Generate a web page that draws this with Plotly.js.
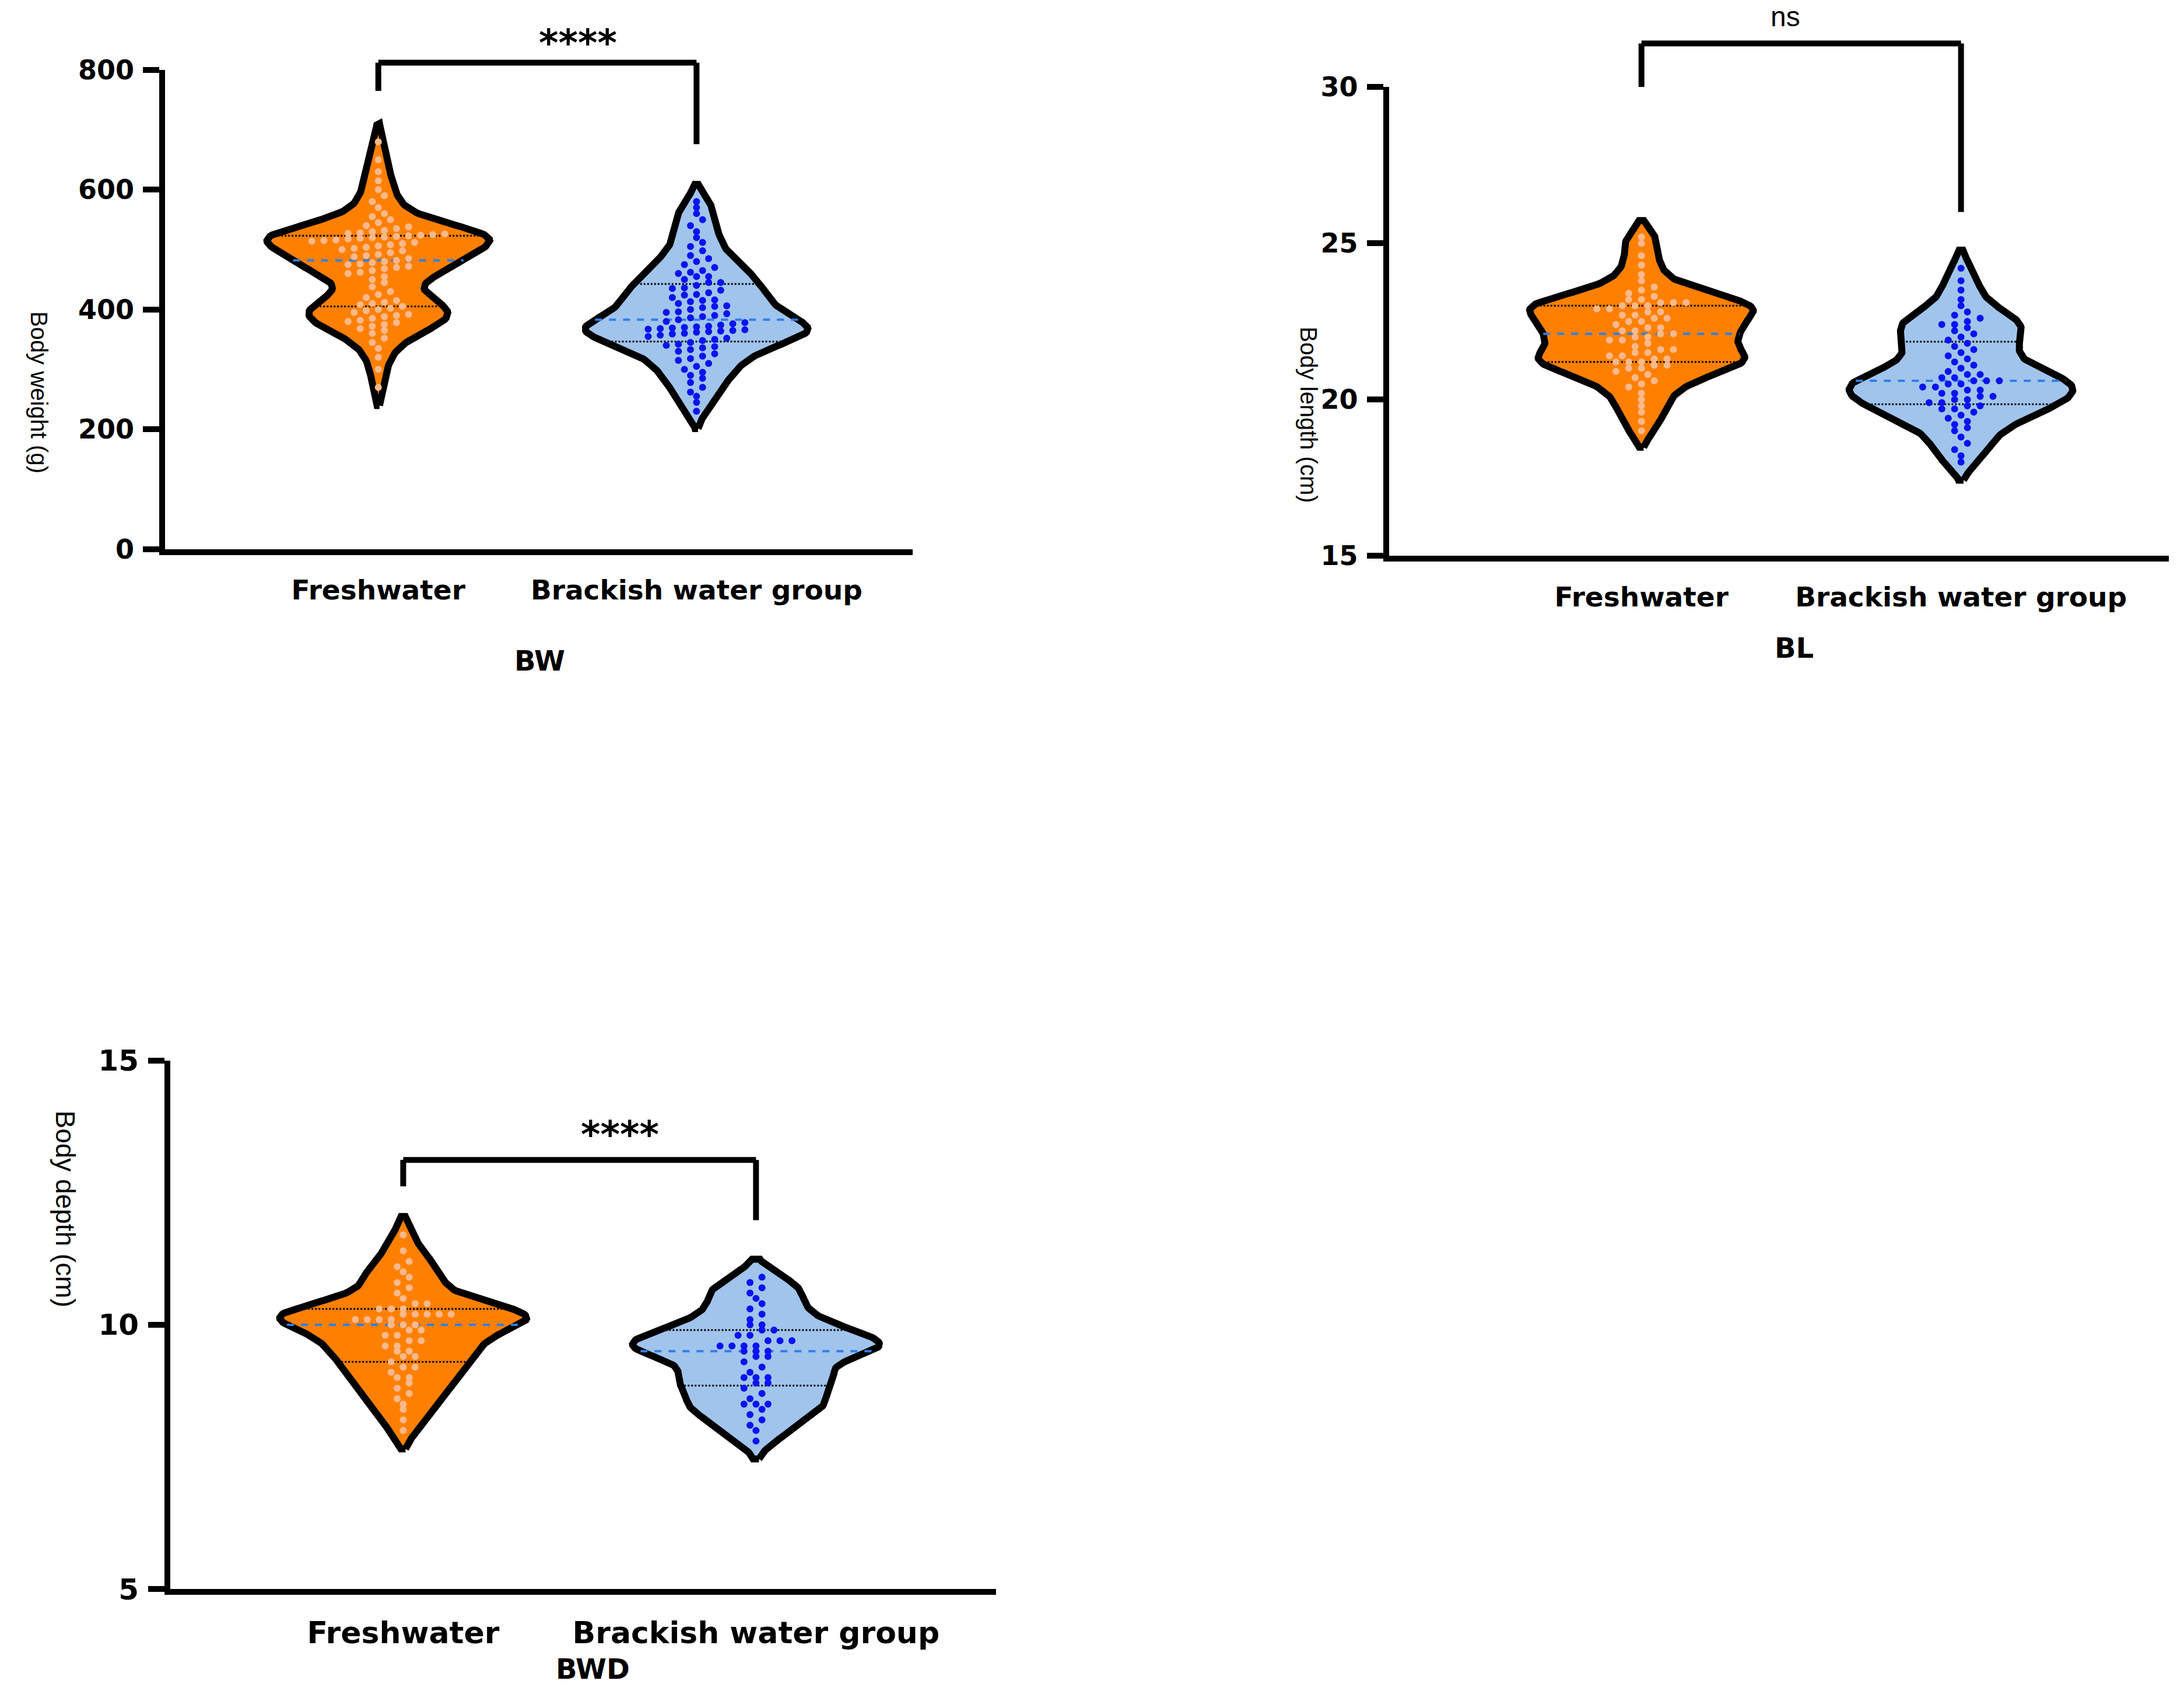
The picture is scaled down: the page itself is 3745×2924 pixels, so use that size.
<!DOCTYPE html>
<html>
<head>
<meta charset="utf-8">
<script src="https://cdn.plot.ly/plotly-3.0.1.min.js"></script>
<style>body{margin:0;background:#fff}#chart{width:3745px;height:2924px}</style>
</head>
<body>
<div id="chart"></div>
<script>
var groups = ["Freshwater", "Brackish water group"];

var fwBW = [270,300,320,335,345,352,360,365,368,372,375,378,380,382,385,388,390,392,395,398,400,402,405,408,410,412,415,420,425,430,438,445,450,455,460,462,465,468,470,472,475,476,478,480,482,485,488,490,492,495,498,500,502,504,506,508,510,512,514,515,516,518,519,520,521,522,523,524,525,526,527,528,530,532,535,538,540,545,550,555,560,570,580,590,600,615,630,650,680];
var bwBW = [230,245,255,262,270,278,285,290,295,300,305,310,315,318,322,326,330,333,336,338,340,342,345,348,350,352,355,357,359,360,362,363,364,365,366,367,368,369,370,371,372,374,376,378,380,383,386,388,390,393,395,396,400,403,405,406,410,413,415,416,420,424,425,428,432,435,436,440,445,445,450,455,455,460,462,465,470,475,480,485,490,498,505,512,520,530,540,550,560,570,580];
var fwBL = [19.0,19.3,19.6,19.8,20.0,20.2,20.4,20.5,20.6,20.7,20.8,20.9,21.0,21.0,21.1,21.1,21.2,21.2,21.2,21.3,21.3,21.4,21.4,21.5,21.5,21.6,21.6,21.7,21.8,21.9,21.9,22.0,22.0,22.1,22.1,22.2,22.2,22.3,22.3,22.4,22.5,22.5,22.6,22.6,22.7,22.7,22.8,22.8,22.9,22.9,23.0,23.0,23.0,23.1,23.1,23.1,23.2,23.2,23.3,23.4,23.5,23.6,23.8,24.0,24.3,24.6,25.0,25.2];
var bwBL = [18.0,18.2,18.4,18.6,18.8,19.0,19.1,19.2,19.3,19.4,19.5,19.6,19.7,19.7,19.8,19.8,19.9,19.9,20.0,20.0,20.1,20.1,20.2,20.2,20.3,20.3,20.4,20.4,20.5,20.5,20.6,20.6,20.6,20.7,20.7,20.8,20.8,20.9,21.0,21.1,21.2,21.3,21.4,21.5,21.6,21.7,21.8,21.9,22.0,22.1,22.2,22.3,22.4,22.4,22.5,22.6,22.7,22.8,23.0,23.2,23.5,23.8,24.2];
var fwBWD = [8.0,8.2,8.4,8.5,8.6,8.7,8.8,8.9,9.0,9.0,9.1,9.2,9.2,9.3,9.4,9.4,9.5,9.5,9.6,9.6,9.7,9.7,9.8,9.8,9.9,9.9,10.0,10.0,10.0,10.1,10.1,10.1,10.1,10.2,10.2,10.2,10.2,10.2,10.3,10.3,10.3,10.4,10.4,10.5,10.6,10.7,10.8,10.9,11.0,11.1,11.2,11.4,11.7];
var bwBWD = [7.8,8.0,8.1,8.2,8.3,8.4,8.5,8.5,8.5,8.6,8.7,8.8,8.9,8.9,9.0,9.0,9.0,9.1,9.2,9.3,9.4,9.4,9.5,9.5,9.5,9.6,9.6,9.6,9.6,9.7,9.7,9.7,9.8,9.8,9.9,9.9,10.0,10.0,10.1,10.2,10.3,10.4,10.5,10.6,10.7,10.8,10.9];

var panels = [
    {name:"BW", ytitle:"Body weight (g)", data:[fwBW,bwBW], yr:[0,800], ytv:[0,200,400,600,800], sig:"****",
     dom:{x:[0.0756,0.418], y:[0.678,0.959]}, xr:[-0.67,1.68], dx:0.038,
     br:{top:812, l:765, r:676, txt:845}, title:{x:0.235,y:0.6125}, yt:{x:0.0115,y:0.818,size:40}},
    {name:"BL", ytitle:"Body length (cm)", data:[fwBL,bwBL], yr:[15,30], ytv:[15,20,25,30], sig:"ns",
     dom:{x:[0.636,0.993], y:[0.674,0.949]}, xr:[-0.79,1.65], dx:0.04,
     br:{top:31.39, l:30, r:26.0, txt:32.25}, title:{x:0.831,y:0.620}, yt:{x:0.599,y:0.809,size:40}},
    {name:"BWD", ytitle:"Body depth (cm)", data:[fwBWD,bwBWD], yr:[5,15], ytv:[5,10,15], sig:"****",
     dom:{x:[0.078,0.456], y:[0.068,0.378]}, xr:[-0.66,1.68], dx:0.034,
     br:{top:13.12, l:12.62, r:11.98, txt:13.6}, title:{x:0.254,y:0.011}, yt:{x:0.0224,y:0.2326,size:46}}
];

var fills = ["#FF8000", "#A1C4EC"];
var dotCols = ["#F9B98C", "#0A14F0"];
var boldFont = "DejaVu Sans";

function quant(arr, p){
    var s = arr.slice().sort(function(a,b){return a-b;});
    var i = (s.length-1)*p, lo = Math.floor(i), hi = Math.ceil(i);
    return s[lo] + (s[hi]-s[lo])*(i-lo);
}

function kde(arr){
    var n = arr.length, m = arr.reduce(function(a,b){return a+b;},0)/n;
    var sd = Math.sqrt(arr.reduce(function(a,b){return a+(b-m)*(b-m);},0)/(n-1));
    var bw = 0.55*1.06*sd*Math.pow(n,-0.2);
    var lo = Math.min.apply(null,arr)-1.6*bw, hi = Math.max.apply(null,arr)+1.6*bw;
    var ys = [], ds = [];
    for (var k=0;k<=200;k++){
        var y = lo+(hi-lo)*k/200, d = 0;
        arr.forEach(function(v){ var u=(y-v)/bw; d += Math.exp(-0.5*u*u); });
        ys.push(y); ds.push(d);
    }
    var mx = Math.max.apply(null,ds);
    return {ys:ys, ds:ds.map(function(d){return d/mx;}), bw:bw};
}

function widthAt(k, y){
    for (var i=1;i<k.ys.length;i++){
        if (k.ys[i]>=y){
            var t=(y-k.ys[i-1])/(k.ys[i]-k.ys[i-1]);
            return k.ds[i-1]+(k.ds[i]-k.ds[i-1])*t;
        }
    }
    return 0;
}

function toPaper(dom, r, v){ return dom[0]+(dom[1]-dom[0])*(v-r[0])/(r[1]-r[0]); }

var traces = [], shapes = [], annotations = [], layout = {};
var half = 0.35;

panels.forEach(function(p, pi){
    var ax = pi===0 ? "" : String(pi+1);
    var xa = "x"+ax, ya = "y"+ax;
    p.data.forEach(function(arr, g){
        var k = kde(arr);
        var xs = [], yy = [];
        k.ys.forEach(function(y,i){ xs.push(g+half*k.ds[i]); yy.push(y); });
        for (var i=k.ys.length-1;i>=0;i--){ xs.push(g-half*k.ds[i]); yy.push(k.ys[i]); }
        xs.push(xs[0]); yy.push(yy[0]);
        traces.push({x:xs, y:yy, xaxis:xa, yaxis:ya, mode:"lines", fill:"toself",
            fillcolor:fills[g], line:{color:"#000", width:12}, hoverinfo:"skip", showlegend:false});
        [[0.25,"dot","#000",3],[0.75,"dot","#000",3],[0.5,"dash","#2F7FE8",4]].forEach(function(q){
            var v = quant(arr,q[0]), w = half*widthAt(k,v);
            traces.push({x:[g-w,g+w], y:[v,v], xaxis:xa, yaxis:ya, mode:"lines",
                line:{color:q[2], width:q[3], dash:q[1]}, hoverinfo:"skip", showlegend:false});
        });
        var bin = (p.yr[1]-p.yr[0])/60, bins = {};
        arr.forEach(function(v){ var b=Math.round(v/bin); (bins[b]=bins[b]||[]).push(v); });
        var px = [], py = [];
        Object.keys(bins).forEach(function(b){
            var vs = bins[b];
            vs.forEach(function(v,j){ px.push(g+(j-(vs.length-1)/2)*p.dx); py.push(v); });
        });
        traces.push({x:px, y:py, xaxis:xa, yaxis:ya, mode:"markers", cliponaxis:false,
            marker:{color:dotCols[g], size:12}, showlegend:false, name:groups[g]});
    });

    layout["xaxis"+ax] = {domain:p.dom.x, range:p.xr, anchor:ya, tickvals:[0,1], ticktext:groups,
        showline:true, linecolor:"#000", linewidth:10, showgrid:false, zeroline:false, ticks:"",
        tickfont:{family:boldFont, size:pi===2?52:47, color:"#000", weight:"bold"}, ticklabelstandoff:20};
    layout["yaxis"+ax] = {domain:p.dom.y, range:p.yr, anchor:xa, tickvals:p.ytv,
        showline:true, linecolor:"#000", linewidth:10, showgrid:false, zeroline:false,
        ticks:"outside", ticklen:28, tickwidth:10, tickcolor:"#000", ticklabelstandoff:6,
        tickfont:{family:boldFont, size:pi===2?50:46, color:"#000", weight:"bold"}};

    var x0 = toPaper(p.dom.x, p.xr, 0), x1 = toPaper(p.dom.x, p.xr, 1);
    var yt = toPaper(p.dom.y, p.yr, p.br.top);
    var ln = {color:"#000", width:10};
    shapes.push({type:"line", xref:"paper", yref:"paper", x0:x0, x1:x1, y0:yt, y1:yt, line:ln});
    shapes.push({type:"line", xref:"paper", yref:"paper", x0:x0, x1:x0, y0:yt, y1:toPaper(p.dom.y,p.yr,p.br.l), line:ln});
    shapes.push({type:"line", xref:"paper", yref:"paper", x0:x1, x1:x1, y0:yt, y1:toPaper(p.dom.y,p.yr,p.br.r), line:ln});
    annotations.push({xref:"paper", yref:"paper", x:(x0+x1)/2, y:toPaper(p.dom.y,p.yr,p.br.txt),
        text:p.sig, showarrow:false, yanchor:"middle",
        font:{family:p.sig==="ns"?"Liberation Sans":boldFont, size:p.sig==="ns"?48:64, color:"#000", weight:p.sig==="ns"?"normal":"bold"}});
    annotations.push({xref:"paper", yref:"paper", x:p.title.x, y:p.title.y, text:p.name, showarrow:false,
        font:{family:boldFont, size:48, color:"#000", weight:"bold"}});
    annotations.push({xref:"paper", yref:"paper", x:p.yt.x, y:p.yt.y, text:p.ytitle, showarrow:false,
        textangle:90, font:{family:"Liberation Sans", size:p.yt.size, color:"#000"}});
});

layout.width = 3745; layout.height = 2924;
layout.margin = {l:0, r:0, t:0, b:0};
layout.paper_bgcolor = "#fff"; layout.plot_bgcolor = "#fff";
layout.shapes = shapes; layout.annotations = annotations;

Plotly.newPlot("chart", traces, layout, {staticPlot:true});
</script>
</body>
</html>
